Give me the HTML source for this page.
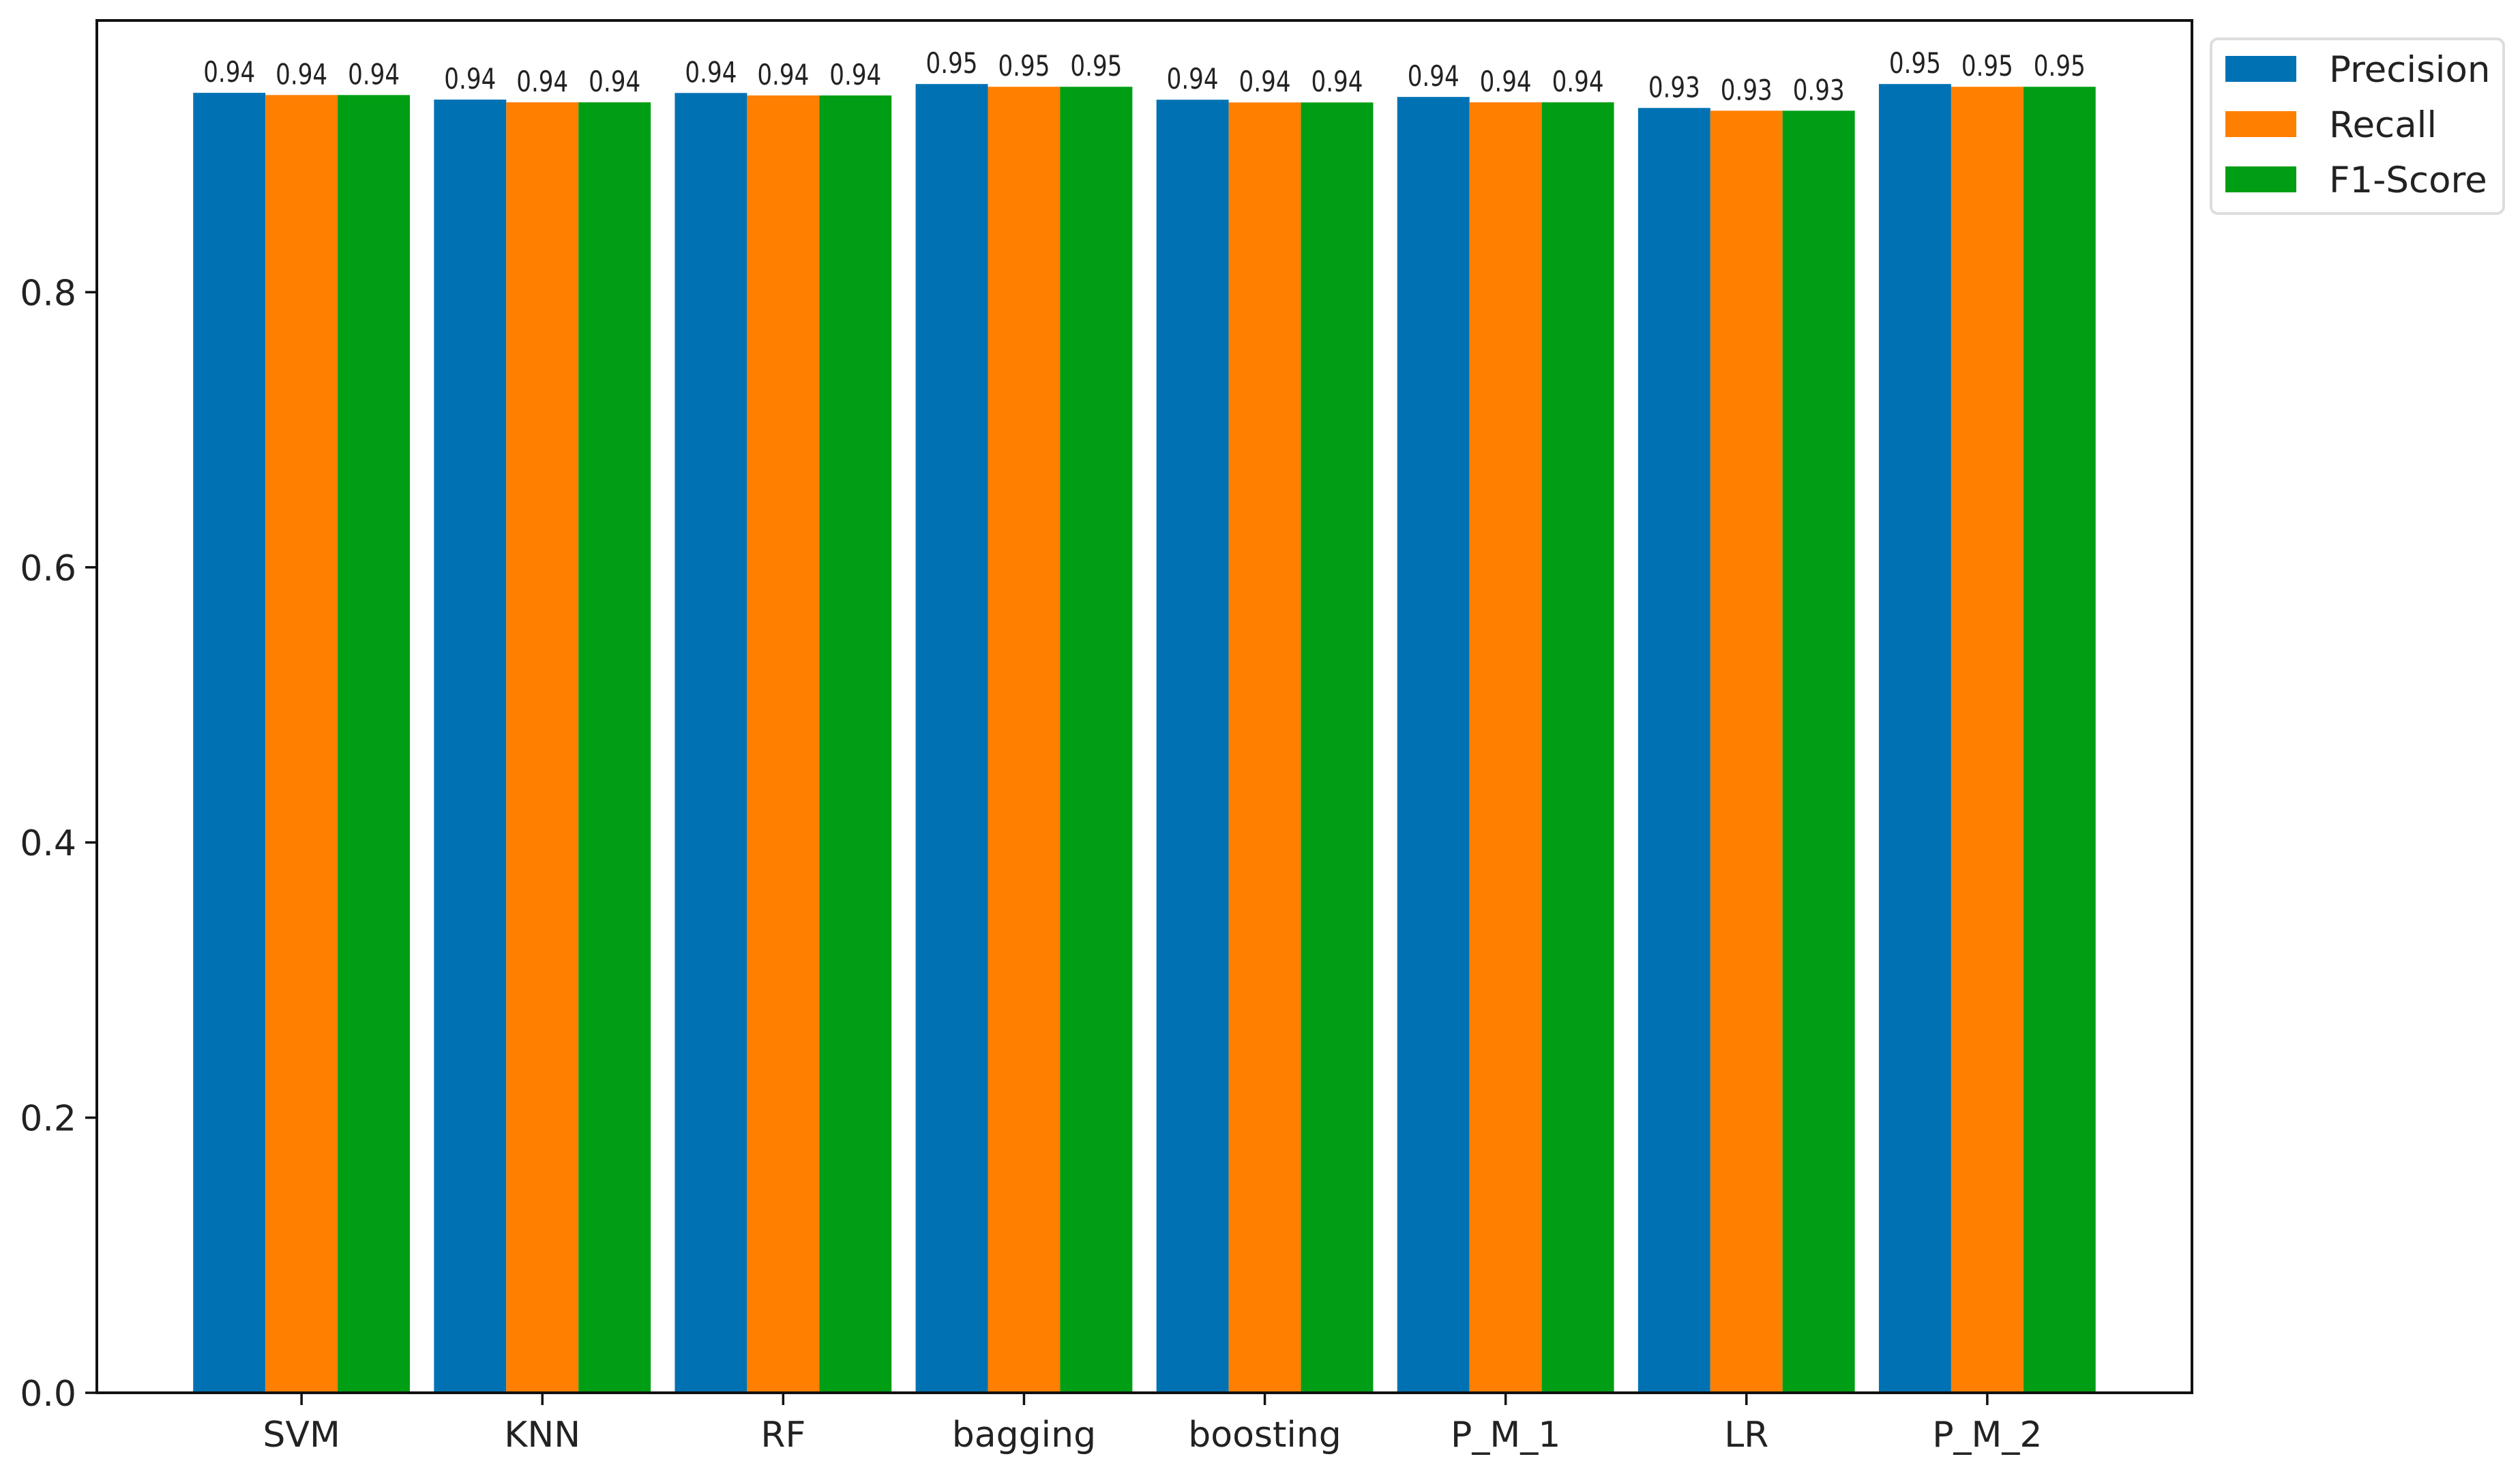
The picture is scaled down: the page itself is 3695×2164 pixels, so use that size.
<!DOCTYPE html>
<html><head><meta charset="utf-8"><style>
html,body{margin:0;padding:0;background:#fff;}
svg{display:block;font-family:"DejaVu Sans","Liberation Sans",sans-serif;}
</style></head><body>
<svg id="chart" width="3695" height="2164" viewBox="0 0 3695 2164" xmlns="http://www.w3.org/2000/svg">
<rect x="0" y="0" width="3695" height="2164" fill="#fff"/>
<g id="plot"></g>
<g id="axes"></g>
<g id="legend"></g>
</svg>
<script>
const categories = ["SVM","KNN","RF","bagging","boosting","P_M_1","LR","P_M_2"];
const precision = [0.9449,0.9400,0.9448,0.9513,0.9399,0.9419,0.9339,0.9513];
const recall    = [0.9433,0.9380,0.9430,0.9493,0.9379,0.9380,0.9319,0.9493];
const f1score   = [0.9433,0.9380,0.9430,0.9493,0.9379,0.9380,0.9319,0.9493];
const seriesNames = ["Precision","Recall","F1-Score"];
const yTicks = [0.0,0.2,0.4,0.6,0.8];
const yTickLabels = ["0.0","0.2","0.4","0.6","0.8"];

const NS="http://www.w3.org/2000/svg";
const colors=["#0072b4","#ff7f00","#009e14"];
const L=142,R=3214,T=30,B=2042;
const xmin=-0.85,xmax=categories.length-1+0.85;
const ymax=0.9975;
const xs=v=>L+(v-xmin)/(xmax-xmin)*(R-L);
const ys=v=>B-v/ymax*(B-T);
const bw=0.3;
function mk(tag,attrs,parent){const e=document.createElementNS(NS,tag);for(const k in attrs)e.setAttribute(k,attrs[k]);parent.appendChild(e);return e;}
const plot=document.getElementById('plot'),axes=document.getElementById('axes'),legend=document.getElementById('legend');
const series=[precision,recall,f1score];
series.forEach((vals,si)=>{
  vals.forEach((v,i)=>{
    const c=i+(si-1)*bw;
    const x0=xs(c-bw/2),x1=xs(c+bw/2);
    const r=mk('rect',{x:x0,y:ys(v),width:x1-x0,height:ys(0)-ys(v),fill:colors[si]},plot);
    
    
    const t=mk('text',{x:(x0+x1)/2,y:ys(v)-16,'text-anchor':'middle','font-size':'42',fill:'#222',textLength:'76',lengthAdjust:'spacingAndGlyphs'},plot);
    t.textContent=v.toFixed(2);
    
    
  });
});
const fr=mk('rect',{x:L,y:T,width:R-L,height:B-T,fill:'none',stroke:'#111','stroke-width':4},axes);


yTicks.forEach((v,i)=>{
  const y=ys(v);
  const tk=mk('line',{x1:L-17,x2:L,y1:y,y2:y,stroke:'#111','stroke-width':3.5},axes);
  
  
  const t=mk('text',{x:L-30,y:y+19,'text-anchor':'end','font-size':'52',fill:'#222'},axes);
  t.textContent=yTickLabels[i];
  
  
});
categories.forEach((c,i)=>{
  const x=xs(i);
  const tk=mk('line',{x1:x,x2:x,y1:B,y2:B+18,stroke:'#111','stroke-width':3.5},axes);
  
  
  const t=mk('text',{x:x,y:2121,'text-anchor':'middle','font-size':'52',fill:'#222'},axes);
  t.textContent=c;
  
  
});
const lb=mk('rect',{x:3242,y:57,width:429,height:256,rx:10,fill:'#fff',stroke:'#ddd','stroke-width':4},legend);


seriesNames.forEach((n,i)=>{
  const cy=101+i*81;
  const p=mk('rect',{x:3263,y:cy-19,width:104,height:38,fill:colors[i]},legend);
  
  
  const t=mk('text',{x:3415,y:cy+19,'font-size':'53',fill:'#222'},legend);
  t.textContent=n;
  
  
});
</script>
</body></html>
